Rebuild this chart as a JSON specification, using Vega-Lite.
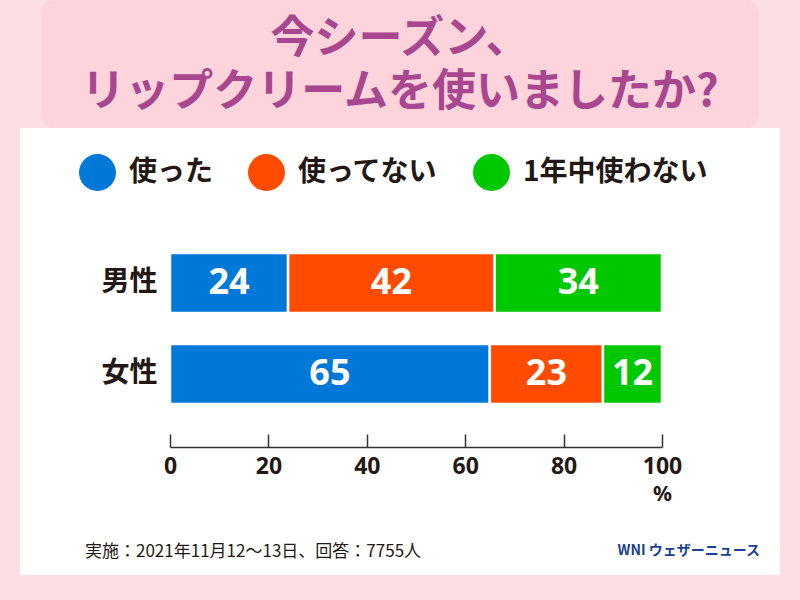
{
  "$schema": "https://vega.github.io/schema/vega-lite/v6.json",
  "background": "#fbdfe5",
  "padding": {"left": 20, "top": 0, "right": 20, "bottom": 25},
  "center": true,
  "spacing": 0,
  "title": {"text": "WNI ウェザーニュース", "orient": "bottom", "anchor": "end", "offset": -31, "dx": -20, "fontSize": 14, "font": "Noto Sans CJK JP", "fontWeight": "bold", "color": "#1b3f94"},
  "config": {"font": "Noto Sans CJK JP", "view": {"stroke": null}},
  "vconcat": [
    {
      "width": 718,
      "height": 128,
      "view": {"fill": "#fdd3dc", "stroke": null, "cornerRadius": 14},
      "data": {"values": [{"title": "今シーズン、\nリップクリームを使いましたか?"}]},
      "mark": {"type": "text", "lineBreak": "\n", "fontSize": 44, "fontWeight": "bold", "color": "#a8478f", "lineHeight": 53, "align": "center", "baseline": "middle", "dy": -24},
      "encoding": {"text": {"field": "title", "type": "nominal"}}
    },
    {
      "width": 760,
      "height": 447,
      "view": {"fill": "white", "stroke": null},
      "title": {"text": "実施：2021年11月12～13日、回答：7755人", "orient": "bottom", "anchor": "start", "offset": -31, "dx": 65, "fontSize": 17, "fontWeight": "normal", "color": "#231815"},
      "data": {"values": [
        {"sex": "男性", "answer": "使った", "k": 1, "pct": 24},
        {"sex": "男性", "answer": "使ってない", "k": 2, "pct": 42},
        {"sex": "男性", "answer": "1年中使わない", "k": 3, "pct": 34},
        {"sex": "女性", "answer": "使った", "k": 1, "pct": 65},
        {"sex": "女性", "answer": "使ってない", "k": 2, "pct": 23},
        {"sex": "女性", "answer": "1年中使わない", "k": 3, "pct": 12}
      ]},
      "encoding": {
        "y": {
          "field": "sex", "type": "nominal", "sort": ["男性", "女性"],
          "scale": {"range": [125, 276], "paddingInner": 0.34, "paddingOuter": 0},
          "axis": {"orient": "left", "offset": -150, "domain": false, "ticks": false, "labelPadding": 13, "labelFontSize": 28, "labelFontWeight": "bold", "labelColor": "#231815", "title": null, "labelAngle": 0}
        }
      },
      "layer": [
        {
          "mark": {"type": "bar", "stroke": "white", "strokeWidth": 2.5},
          "encoding": {
            "x": {
              "field": "pct", "type": "quantitative", "stack": "zero",
              "scale": {"domain": [0, 100], "range": [150, 642], "nice": false},
              "axis": {"orient": "bottom", "offset": -128, "values": [0, 20, 40, 60, 80, 100], "tickSize": -13, "domainColor": "#333333", "tickColor": "#333333", "domainWidth": 1.5, "tickWidth": 1.5, "labelFont": "Noto Sans", "labelFontSize": 23, "labelFontWeight": "bold", "labelColor": "#231815", "labelPadding": 21, "labelFlush": false, "grid": false, "title": "%", "titleAnchor": "end", "titleAlign": "center", "titleFont": "Noto Sans", "titleFontSize": 21, "titleFontWeight": "bold", "titleColor": "#231815", "titlePadding": 5}
            },
            "color": {
              "field": "answer", "type": "nominal",
              "scale": {"domain": ["使った", "使ってない", "1年中使わない"], "range": ["#0078d8", "#ff4b00", "#00c800"]},
              "legend": {"orient": "none", "legendX": 59, "legendY": 154, "direction": "horizontal", "title": null, "symbolType": "circle", "symbolSize": 1369, "symbolStrokeWidth": 0, "symbolOpacity": 1, "labelFontSize": 28, "labelFontWeight": "bold", "labelColor": "#231815", "labelOffset": 13, "columnPadding": 34, "padding": 0, "labelLimit": 400}
            },
            "order": {"field": "k", "type": "quantitative"}
          }
        },
        {
          "mark": {"type": "text", "color": "white", "font": "Noto Sans", "fontSize": 36, "fontWeight": "bold", "align": "center", "baseline": "middle"},
          "encoding": {
            "x": {"field": "pct", "type": "quantitative", "stack": "zero", "bandPosition": 0.5},
            "detail": {"field": "answer", "type": "nominal"},
            "order": {"field": "k", "type": "quantitative"},
            "text": {"field": "pct", "type": "quantitative"}
          }
        }
      ]
    }
  ]
}
